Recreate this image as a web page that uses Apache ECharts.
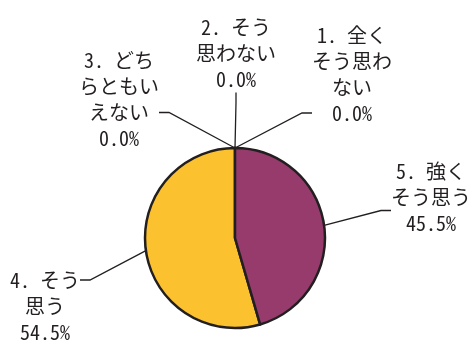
<!DOCTYPE html>
<html>
<head>
<meta charset="utf-8">
<style>
  html, body { margin: 0; padding: 0; background: #fff; }
  #chart { width: 471px; height: 343px; }
</style>
<script src="https://cdn.jsdelivr.net/npm/echarts@6/dist/echarts.min.js"></script>
</head>
<body>
<div id="chart"></div>
<script>
// answer choices, as printed on the label rows
var labelRows = [
  ['1. 全く', 'そう思わ', 'ない'],
  ['2. そう', '思わない'],
  ['3. どち', 'らともい', 'えない'],
  ['4. そう', '思う'],
  ['5. 強く', 'そう思う']
];
var categories = labelRows.map(function (r) { return r.join(''); });
var percents = [0, 0, 0, 54.5, 45.5];
var colors = ['#963b6c', '#963b6c', '#963b6c', '#fbc12e', '#963b6c'];

// where each label's text block is centred, and blank rows [above, below]
// that move the point where the leader line meets it
var labelCenters = [[352, 74], [236, 53.5], [119, 99.5], [45, 306], [431, 197.5]];
var blankRows = [[0, 3], [0, 0], [0, 1], [2, 0], [0, 1]];
var LH = 26;

function blanks(n) {
  var out = [];
  for (var k = 0; k < n; k++) out.push(' ');
  return out;
}

var chart = echarts.init(document.getElementById('chart'), null, { renderer: 'canvas' });

chart.setOption({
  animation: false,
  backgroundColor: '#fff',
  series: [{
    type: 'pie',
    center: [235, 238],
    radius: 90,
    startAngle: 90,
    clockwise: false,
    avoidLabelOverlap: false,
    data: categories.map(function (name, i) {
      return { name: name, value: percents[i], itemStyle: { color: colors[i] } };
    }),
    itemStyle: { borderColor: '#231f20', borderWidth: 2.5 },
    label: {
      show: true,
      position: 'outside',
      fontFamily: '"Noto Sans Mono CJK JP", "Noto Sans CJK JP"',
      fontSize: 20,
      lineHeight: LH,
      color: '#231f20',
      overflow: 'none',
      formatter: function (p) {
        var i = p.dataIndex;
        var rows = blanks(blankRows[i][0])
          .concat(labelRows[i], [p.value.toFixed(1) + '%'], blanks(blankRows[i][1]));
        return rows.join('\n');
      }
    },
    labelLine: {
      show: true,
      length: 20,
      length2: 10,
      lineStyle: { color: '#231f20', width: 1.3 }
    },
    labelLayout: function (params) {
      var i = params.dataIndex;
      var c = labelCenters[i], b = blankRows[i];
      return {
        x: c[0],
        y: c[1] + (b[1] - b[0]) * LH / 2,
        align: 'center',
        verticalAlign: 'middle'
      };
    }
  }]
});
</script>
</body>
</html>
